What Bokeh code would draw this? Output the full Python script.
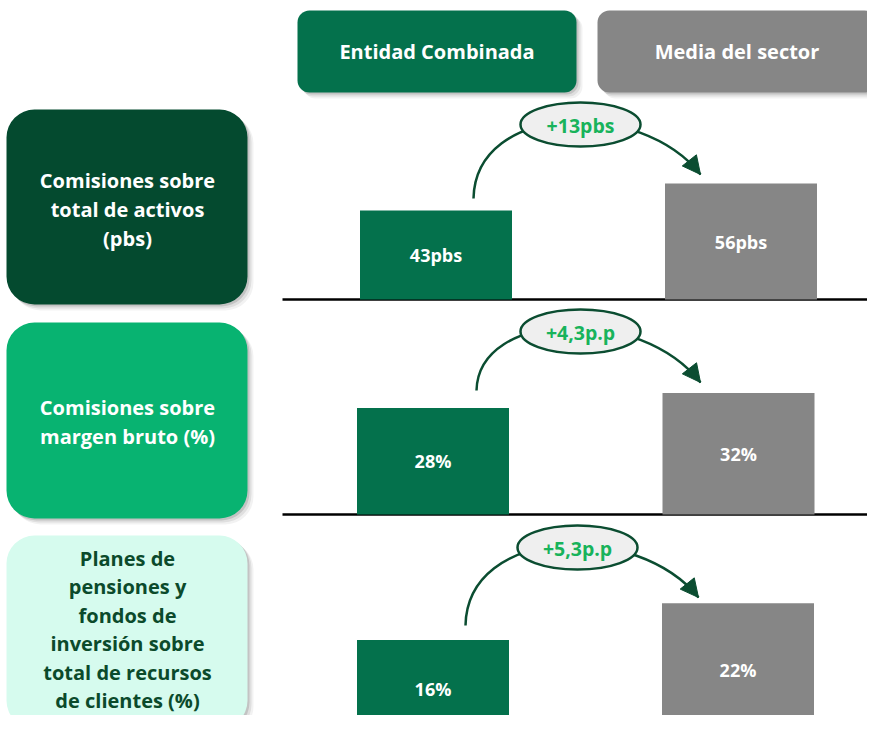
from bokeh.plotting import figure
from bokeh.models import Range1d, Arrow, NormalHead
from bokeh.core.properties import value
from bokeh.embed import file_html
from bokeh.resources import INLINE

# ---------------- data ----------------
series_names = ["Entidad Combinada", "Media del sector"]
panel_labels = [
    ["Comisiones sobre", "total de activos", "(pbs)"],
    ["Comisiones sobre", "margen bruto (%)"],
    ["Planes de", "pensiones y", "fondos de", "inversión sobre", "total de recursos", "de clientes (%)"],
]
entidad = [43, 28, 16]
sector = [56, 32, 22]
entidad_labels = ["43pbs", "28%", "16%"]
sector_labels = ["56pbs", "32%", "22%"]
diff_labels = ["+13pbs", "+4,3p.p", "+5,3p.p"]

# ---------------- styles / layout ----------------
FONT = value("Open Sans")
GREEN = "#04714C"
GRAY = "#868686"
BOX_COLORS = ["#044A2F", "#08B371", "#D6FBEE"]
BOX_TEXT = ["white", "white", "#0B4A2B"]
BOX_TB = [(109, 304), (322, 518), (535, 728)]
TEXT_CY = [209, 421.5, 629]
TEXT_STEP = [29, 29, 28.5]
BASE_PX = [299, 514, 737]          # baseline pixel of each panel
SCALE = [2.07, 3.8, 6.1]           # px per unit in each panel
GREEN_X = [435.5, 432.5, 432.5]
GRAY_X = [740.5, 738.0, 737.5]
BAR_W = 152
ELL = [(580, 124), (580, 331), (577, 547)]
ARC_START = [(473, 198), (476, 390), (465, 625)]
ARC_END = [(700, 174), (700, 382), (698, 597)]
ARC_COLOR = "#0B4D31"
W, H = 867, 715

p = figure(width=W, height=H, x_range=Range1d(0, W), y_range=Range1d(H, 0),
           output_backend="svg", toolbar_location=None, min_border=0,
           x_axis_location=None, y_axis_location=None,
           background_fill_color="white", border_fill_color="white",
           outline_line_color=None)
p.grid.visible = False


def shadow_box(l, r, t, b, radius, color):
    for k, a in [(6, 0.05), (4, 0.08), (2, 0.12)]:
        p.quad(left=l + k, right=r + k, top=t + k, bottom=b + k, fill_color="black",
               fill_alpha=a, line_color=None, border_radius=radius)
    p.quad(left=l, right=r, top=t, bottom=b, fill_color=color, line_color=None,
           border_radius=radius)


# header boxes
hdr = [(297, 576, GREEN), (597, 876, GRAY)]
for (l, r, c), name in zip(hdr, series_names):
    shadow_box(l, r, 10, 92, 12, c)
    p.text(x=[(l + r) / 2], y=[51], text=[name], text_font=FONT, text_font_style="bold",
           text_font_size="20px", text_color="white", text_align="center",
           text_baseline="middle")

# panels
for i in range(3):
    t, b = BOX_TB[i]
    shadow_box(6, 247, t, b, 28, BOX_COLORS[i])
    lines = panel_labels[i]
    n = len(lines)
    ys = [TEXT_CY[i] + (k - (n - 1) / 2) * TEXT_STEP[i] for k in range(n)]
    p.text(x=[127] * n, y=ys, text=lines, text_font=FONT, text_font_style="bold",
           text_font_size="20px", text_color=BOX_TEXT[i], text_align="center",
           text_baseline="middle")

    # per panel value scale
    B, s = BASE_PX[i], SCALE[i]
    rn = f"p{i}"
    p.extra_y_ranges[rn] = Range1d(start=(B - H) / s, end=B / s)

    # baseline
    p.segment(x0=[282], x1=[W], y0=[0], y1=[0], y_range_name=rn,
              line_color="black", line_width=2.5)

    # bars
    p.vbar(x=[GREEN_X[i]], top=[entidad[i]], bottom=0, width=BAR_W, y_range_name=rn,
           fill_color=GREEN, line_color=None)
    p.vbar(x=[GRAY_X[i]], top=[sector[i]], bottom=0, width=BAR_W, y_range_name=rn,
           fill_color=GRAY, line_color=None)
    p.text(x=[GREEN_X[i], GRAY_X[i]], y=[entidad[i] / 2, sector[i] / 2],
           text=[entidad_labels[i], sector_labels[i]], y_range_name=rn,
           text_font=FONT, text_font_style="bold", text_font_size="18px",
           text_color="white", text_align="center", text_baseline="middle")

    # arc arrow
    ex, ey = ELL[i]
    x0, y0 = ARC_START[i]
    x3, y3 = ARC_END[i]
    cx0, cy0 = x0 + 2, ey - 22
    cx1, cy1 = ex + 60, ey - 26
    p.bezier(x0=[x0], y0=[y0], x1=[x3], y1=[y3], cx0=[cx0], cy0=[cy0], cx1=[cx1], cy1=[cy1],
             line_color=ARC_COLOR, line_width=2.5)
    dx, dy = x3 - cx1, y3 - cy1
    L = (dx * dx + dy * dy) ** 0.5
    p.add_layout(Arrow(end=NormalHead(size=18, fill_color=ARC_COLOR, line_color=ARC_COLOR),
                       x_start=x3 - 3 * dx / L, y_start=y3 - 3 * dy / L, x_end=x3, y_end=y3,
                       line_color=ARC_COLOR, line_width=2.5))

    # difference ellipse
    p.ellipse(x=[ex], y=[ey], width=120, height=44, fill_color="#EFEFEF",
              line_color=ARC_COLOR, line_width=2.5)
    p.text(x=[ex], y=[ey + 1], text=[diff_labels[i]], text_font=FONT, text_font_style="bold",
           text_font_size="19.5px", text_color="#18B35B", text_align="center",
           text_baseline="middle")

open("out.html", "w").write(file_html(p, INLINE))
